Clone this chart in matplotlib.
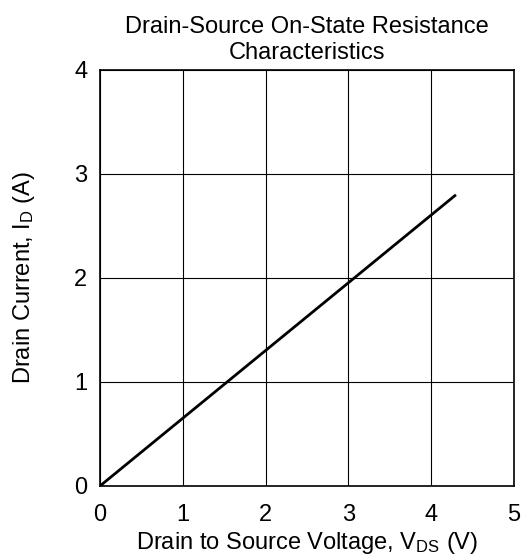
import matplotlib
matplotlib.use('Agg')
from matplotlib import pyplot as plt

plt.rcParams['font.family'] = ['Liberation Sans', 'DejaVu Sans']
plt.rcParams['mathtext.fontset'] = 'custom'
plt.rcParams['mathtext.rm'] = 'Liberation Sans'

# line end points
VDS = [0.0, 4.3]
ID = [0.0, 2.8]
X_TICKS = [0, 1, 2, 3, 4, 5]
Y_TICKS = [0, 1, 2, 3, 4]

fig = plt.figure(figsize=(5.26, 5.59), dpi=100)
ax = fig.add_axes([0.190, 0.1306, 0.787, 0.7442])

ax.plot(VDS, ID, color='black', linewidth=2.0, solid_capstyle='butt', zorder=3)

ax.set_xlim(0, 5)
ax.set_ylim(0, 4)
ax.set_xticks(X_TICKS)
ax.set_yticks(Y_TICKS)
ax.tick_params(length=0, labelsize=17)
ax.tick_params(axis='x', pad=13)
ax.tick_params(axis='y', pad=9)
ax.grid(color='black', linewidth=0.8)
for spine in ax.spines.values():
    spine.set_linewidth(1.2)

ax.set_title('Drain-Source On-State Resistance\nCharacteristics', fontsize=17,
             linespacing=1.2, pad=8)
ax.set_xlabel(r'Drain to Source Voltage, V$\mathregular{_{DS}}$ (V)', fontsize=17, labelpad=3)
ax.set_ylabel(r'Drain Current, I$\mathregular{_D}$ (A)', fontsize=17, labelpad=27)

fig.savefig('out.png', dpi=100)
